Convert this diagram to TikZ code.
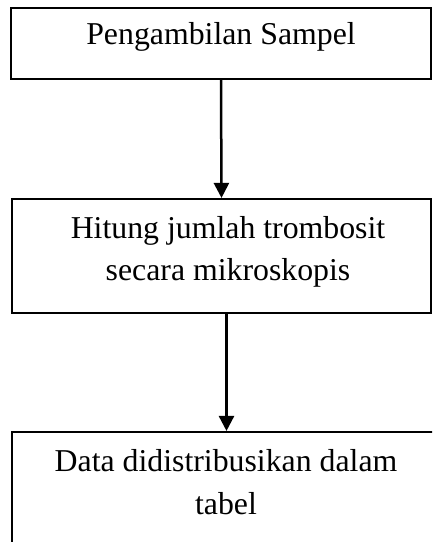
\documentclass[tikz,border=0pt]{standalone}
\usepackage{fontspec}
\setmainfont{Liberation Serif}
\usetikzlibrary{arrows.meta,positioning,calc}

\begin{document}
\begin{tikzpicture}[x=1pt, y=-1pt,
  box/.style={draw, line width=2.1pt, rectangle, inner sep=0pt},
  boxtext/.style={anchor=north, inner sep=0pt, align=center, font=\fontsize{31.8}{42.5}\selectfont},
  arr/.style={line width=2.5pt, -{Triangle[width=15pt,length=15pt]}}]
  \useasboundingbox (0,0) rectangle (432,542);
  \clip (0,0) rectangle (432,542);
  % kotak
  \node[box, minimum width=420pt, minimum height=71pt] (sampel) at (221,43.5) {};
  \node[box, minimum width=419pt, minimum height=114pt] (hitung) at (221.5,256) {};
  \node[box, minimum width=428pt, minimum height=130pt] (data) at (226,497) {};
  % teks
  \node[boxtext] (sampeltxt) at ([yshift=-15pt]sampel.north) {Pengambilan Sampel};
  \node[boxtext] (hitungtxt) at ([xshift=6.5pt,yshift=-18pt]hitung.north) {Hitung jumlah trombosit\\secara mikroskopis};
  \node[boxtext] (datatxt) at ([yshift=-18.5pt]data.north) {Data didistribusikan dalam\\tabel};
  % panah
  \draw[arr] (sampel.south) -- (hitung.north);
  \draw[arr] ([xshift=5pt]hitung.south) -- ([xshift=5pt]hitung.south |- data.north);
\end{tikzpicture}
\end{document}
